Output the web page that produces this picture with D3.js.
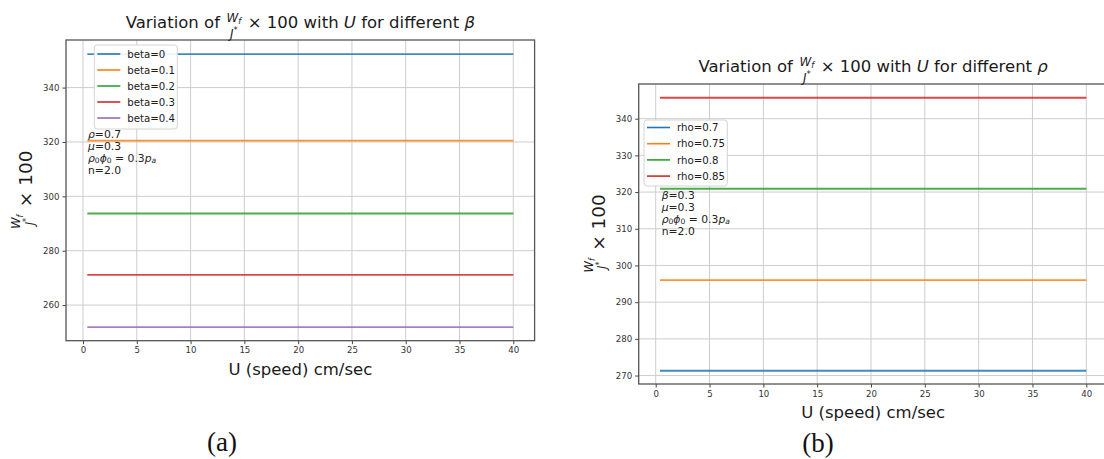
<!DOCTYPE html>
<html>
<head>
<meta charset="utf-8">
<script src="https://cdn.jsdelivr.net/npm/d3@7"></script>
<style>
  html, body { margin: 0; padding: 0; background: #fff; }
  svg { display: block; }
  text { font-family: "DejaVu Sans", sans-serif; white-space: pre; }
</style>
</head>
<body>
<svg id="chart" width="1104" height="459"></svg>
<script>
// ---------------- data ----------------
const uRange = [0.4, 40];                       // U (speed) start / end of every curve
const xTicks = [0, 5, 10, 15, 20, 25, 30, 35, 40];

const betaLabels = ["beta=0", "beta=0.1", "beta=0.2", "beta=0.3", "beta=0.4"];
const betaValues = [352.3, 320.5, 293.7, 271.1, 251.9];
const yTicksA = [260, 280, 300, 320, 340];

const rhoLabels = ["rho=0.7", "rho=0.75", "rho=0.8", "rho=0.85"];
const rhoValues = [271.3, 296.0, 320.9, 345.7];
const yTicksB = [270, 280, 290, 300, 310, 320, 330, 340];

const colorsA = ["#1f77b4", "#ff7f0e", "#2ca02c", "#d62728", "#9467bd"];
const colorsB = ["#1f77b4", "#ff7f0e", "#2ca02c", "#d62728"];

// ---------------- helpers ----------------
const svg = d3.select("#chart");

function richText(parent, x, y, size, segs, fill, subShift) {
  const t = parent.append("text").attr("x", x).attr("y", y)
    .style("font-size", size + "px").attr("fill", fill || "#1a1a1a");
  let off = 0;
  const sh = subShift == null ? 0.22 : subShift;
  segs.forEach(s => {
    const target = s.sub ? size * sh : (s.sup ? -size * 0.38 : 0);
    const ts = t.append("tspan").attr("dy", target - off).text(s.t);
    if (s.sub || s.sup) ts.style("font-size", (size * 0.7) + "px");
    if (s.i) ts.style("font-style", "italic");
    off = target;
  });
  return t;
}

function mathLine(parent, size, pieces, fracOpts) {
  const g = parent.append("g");
  let x = 0;
  pieces.forEach(p => {
    if (p.frac) {
      const fs = size * fracOpts.scale;
      const n = richText(g, x, fracOpts.num, fs, p.num);
      const d = richText(g, x, fracOpts.den, fs, p.den);
      const wn = n.node().getComputedTextLength();
      const wd = d.node().getComputedTextLength();
      const w = Math.max(wn, wd);
      n.attr("x", x + size * 0.08 + (w - wn) / 2);
      d.attr("x", x + size * 0.08 + (w - wd) / 2);
      x += w + size * 0.16;
    } else {
      const t = richText(g, x, 0, size, p.segs);
      x += t.node().getComputedTextLength();
    }
  });
  return { g, width: x };
}

const wOverJ = { frac: true,
  num: [{ t: "W", i: true }, { t: "f", i: true, sub: true }],
  den: [{ t: "J", i: true }, { t: "*", sup: true }] };

function panel(cfg) {
  const { left, top, width, height } = cfg;
  const x = d3.scaleLinear().domain([-1.58, 41.98]).range([left, left + width]);
  const y = d3.scaleLinear().domain(cfg.yDomain).range([top + height, top]);
  const g = svg.append("g");

  // grid
  g.append("g").selectAll("line").data(xTicks).join("line")
    .attr("x1", d => x(d)).attr("x2", d => x(d))
    .attr("y1", top).attr("y2", top + height)
    .attr("stroke", "#cdcdcd").attr("stroke-width", 1);
  g.append("g").selectAll("line").data(cfg.yTicks).join("line")
    .attr("y1", d => y(d)).attr("y2", d => y(d))
    .attr("x1", left).attr("x2", left + width)
    .attr("stroke", "#cdcdcd").attr("stroke-width", 1);

  // series
  const line = d3.line().x(d => x(d[0])).y(d => y(d[1]));
  cfg.values.forEach((v, i) => {
    g.append("path").datum(uRange.map(u => [u, v]))
      .attr("d", line).attr("fill", "none")
      .attr("stroke", cfg.colors[i]).attr("stroke-width", 1.9).attr("opacity", 0.85);
  });

  // axes
  const xAxis = d3.axisBottom(x).tickValues(xTicks).tickSize(3.5).tickPadding(3).tickFormat(d3.format("d"));
  const yAxis = d3.axisLeft(y).tickValues(cfg.yTicks).tickSize(3.5).tickPadding(3).tickFormat(d3.format("d"));
  const gx = g.append("g").attr("transform", `translate(0,${top + height})`).call(xAxis);
  const gy = g.append("g").attr("transform", `translate(${left},0)`).call(yAxis);
  [gx, gy].forEach(a => {
    a.select(".domain").remove();
    a.selectAll(".tick line").attr("stroke", "#444").attr("stroke-width", 1);
    a.selectAll(".tick text").attr("fill", "#333")
      .style("font-family", "'DejaVu Sans', sans-serif").style("font-size", "8.6px");
  });

  // frame
  g.append("rect").attr("x", left).attr("y", top).attr("width", width).attr("height", height)
    .attr("fill", "none").attr("stroke", "#555").attr("stroke-width", 1.3);

  // title
  const tl = mathLine(g, 16.5, [
    { segs: [{ t: "Variation of " }] },
    wOverJ,
    { segs: [{ t: " × 100 with " }, { t: "U", i: true }, { t: " for different " }, { t: cfg.titleSym, i: true }] }
  ], { scale: 0.72, num: -6.5, den: 9.5 });
  tl.g.attr("transform", `translate(${left + width / 2 - tl.width / 2},${top - 12})`);

  // x label
  g.append("text").attr("x", left + width / 2).attr("y", top + height + 34)
    .attr("text-anchor", "middle").style("font-size", "16.5px").attr("fill", "#1a1a1a")
    .text("U (speed) cm/sec");

  // y label
  const yl = mathLine(g, 18.5, [wOverJ, { segs: [{ t: " × 100" }] }], { scale: 0.62, num: -12, den: 1.5 });
  yl.g.attr("transform", `translate(${left - 34},${top + height / 2}) rotate(-90) translate(${-yl.width / 2},0)`);

  // legend
  const L = cfg.legend;
  const lg = g.append("g");
  lg.append("rect").attr("x", L.x).attr("y", L.y).attr("width", L.w).attr("height", L.h)
    .attr("rx", 3).attr("fill", "#fff").attr("fill-opacity", 0.9)
    .attr("stroke", "#d4d4d4").attr("stroke-width", 1);
  cfg.labels.forEach((lab, i) => {
    const cy = L.y + L.first + i * L.step;
    lg.append("line").attr("x1", L.x + 3).attr("x2", L.x + 26).attr("y1", cy).attr("y2", cy)
      .attr("stroke", cfg.colors[i]).attr("stroke-width", 1.6);
    lg.append("text").attr("x", L.x + 33).attr("y", cy + 3.6)
      .style("font-size", "10.2px").attr("fill", "#1a1a1a").text(lab);
  });

  // annotation
  const A = cfg.annot;
  const ann = [
    cfg.annotFirst,
    [{ t: "μ", i: true }, { t: "=0.3" }],
    [{ t: "ρ", i: true }, { t: "0", sub: true }, { t: "ϕ", i: true }, { t: "0", sub: true }, { t: " = 0.3" }, { t: "p", i: true }, { t: "a", i: true, sub: true }],
    [{ t: "n=2.0" }]
  ];
  ann.forEach((segs, i) => richText(g, A.x, A.y + i * 12, 10.8, segs, "#222", 0.12));

  // panel caption
  g.append("text").attr("x", cfg.caption.x).attr("y", cfg.caption.y).attr("text-anchor", "middle")
    .style("font-family", "'Liberation Serif', 'Times New Roman', serif").style("font-size", "27px")
    .attr("fill", "#111").text(cfg.caption.t);
}

panel({
  left: 66, top: 40, width: 468.6, height: 300.7,
  yDomain: [246.9, 357.5], yTicks: yTicksA,
  values: betaValues, labels: betaLabels, colors: colorsA,
  titleSym: "β",
  legend: { x: 94.3, y: 45, w: 83, h: 84, first: 9, step: 16 },
  annot: { x: 88, y: 138 },
  annotFirst: [{ t: "ρ", i: true }, { t: "=0.7" }],
  caption: { x: 222, y: 451, t: "(a)" }
});

panel({
  left: 638.7, top: 84, width: 468.9, height: 300,
  yDomain: [267.7, 349.45], yTicks: yTicksB,
  values: rhoValues, labels: rhoLabels, colors: colorsB,
  titleSym: "ρ",
  legend: { x: 644, y: 120, w: 83.3, h: 66, first: 7.5, step: 16.2 },
  annot: { x: 661.7, y: 199 },
  annotFirst: [{ t: "β", i: true }, { t: "=0.3" }],
  caption: { x: 818, y: 452, t: "(b)" }
});
</script>
</body>
</html>
